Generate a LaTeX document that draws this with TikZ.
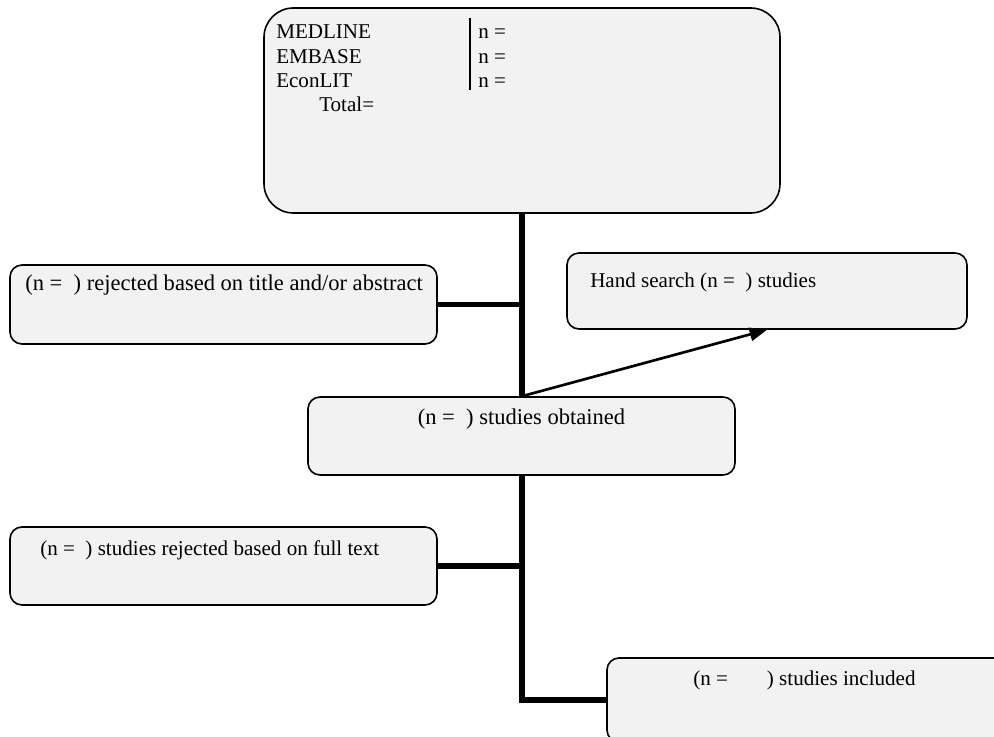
\documentclass[tikz,border=0pt]{standalone}
\usepackage{fontspec}
\setmainfont{Liberation Serif}
\usetikzlibrary{fit,arrows.meta}
\definecolor{boxfill}{HTML}{F2F2F2}
\begin{document}
\begin{tikzpicture}[x=0.75pt,y=-0.75pt,
  flowbox/.style={draw=black, line width=1.2pt, fill=boxfill, inner sep=0pt, rounded corners=9pt},
  txt/.style={inner sep=0pt, anchor=base west, font=\fontsize{15.8}{19}\selectfont},
  bigtxt/.style={txt, font=\fontsize{16.9}{20}\selectfont},
  trunk/.style={line width=3.8pt},
  feed/.style={line width=2pt, -{Triangle[length=13pt,width=10pt]}}]
\useasboundingbox (0,0) rectangle (994,737);
\clip (0,0) rectangle (994,737);

% boxes
\node[flowbox, rounded corners=22pt, fit={(264,8) (780,213)}] (search) {};
\node[flowbox, fit={(10,265) (437,344)}] (rejtitle) {};
\node[flowbox, fit={(567,253) (967,329)}] (hand) {};
\node[flowbox, fit={(308,397) (735,475)}] (obtained) {};
\node[flowbox, fit={(10,527) (437,605)}] (rejfull) {};
\node[flowbox, fit={(607,658) (1010,742)}] (included) {};

% database counts
\node[txt] (med) at (276,39) {MEDLINE};
\node[txt] (emb) at (276,64) {EMBASE};
\node[txt] (econ) at (276,88) {EconLIT};
\node[txt] (tot) at (319,112) {Total=};
\node[txt] (nmed) at (478,39) {n =};
\node[txt] (nemb) at (478,64) {n =};
\node[txt] (necon) at (478,88) {n =};
\draw[line width=1.2pt] (470,18) -- (470,90);

% box texts
\node[bigtxt] (trej) at (25,291) {(n =\ \ ) rejected based on title and/or abstract};
\node[txt] (thand) at (590,288) {Hand search (n =\ \ ) studies};
\node[bigtxt, anchor=base] (tobt) at (521.5,424) {(n =\ \ ) studies obtained};
\node[txt] (tfull) at (40,555) {(n =\ \ ) studies rejected based on full text};
\node[txt] (tinc) at (693,685) {(n =\hspace{1.85em}) studies included};

% connectors
\draw[trunk] (search.south) -- (search.south |- obtained.north);
\draw[trunk] (rejtitle.east) -- (rejtitle.east -| search.south);
\draw[feed] (search.south |- obtained.north) -- (hand.south);
\draw[trunk] (search.south |- obtained.south) -- (search.south |- included.west) -- (included.west);
\draw[trunk] (rejfull.east) -- (rejfull.east -| search.south);
\end{tikzpicture}
\end{document}
